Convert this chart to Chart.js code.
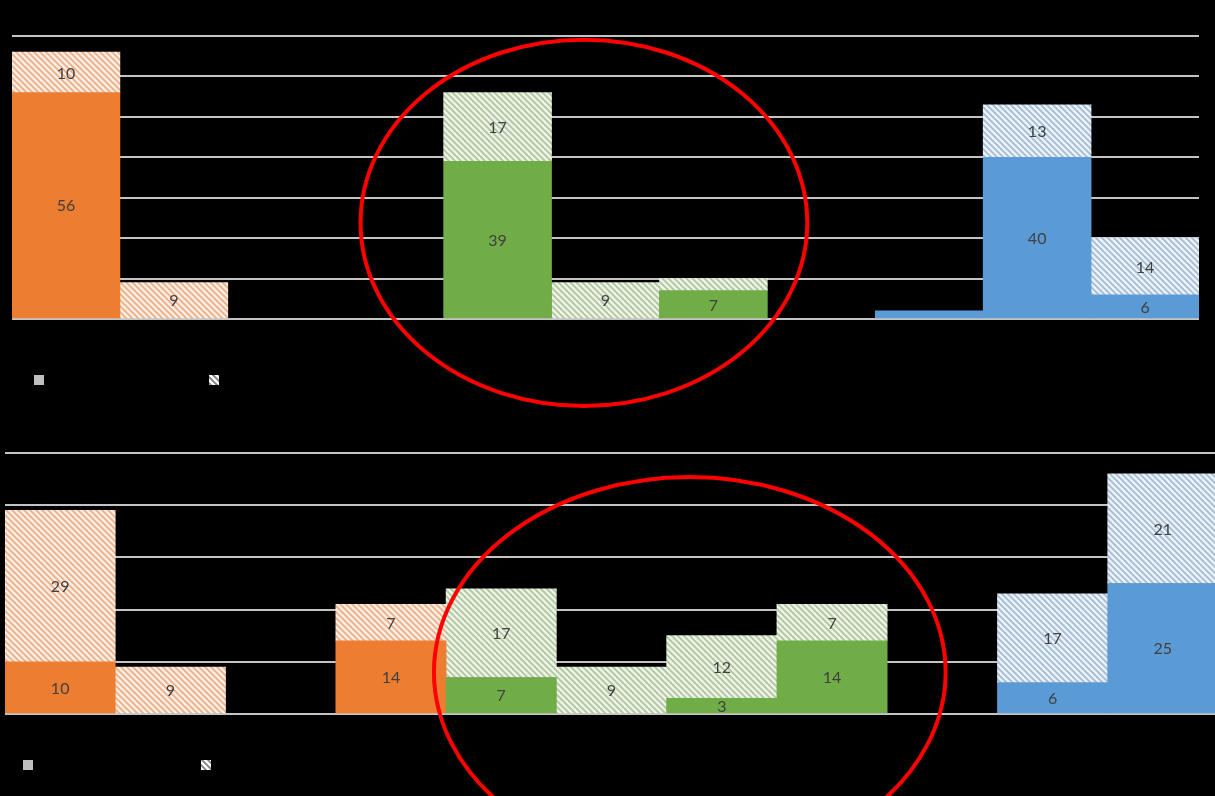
<!DOCTYPE html>
<html>
<head>
<meta charset="utf-8">
<script src="https://cdn.jsdelivr.net/npm/chart.js@4/dist/chart.umd.min.js"></script>
<style>
  html, body { margin: 0; padding: 0; background: #000; overflow: hidden; }
  canvas { display: block; }
</style>
</head>
<body>
<canvas id="top" width="1215" height="420"></canvas>
<canvas id="bottom" width="1218" height="376"></canvas>
<script>
////////////
//// Data (category labels are hidden in the source, slots are just keys)

let slotsTop    = ['o1', 'o2', 'o3', 'gap1', 'g1', 'g2', 'g3', 'gap2', 'b1', 'b2', 'b3'];
let groupTop    = ['orange', 'orange', 'orange', '', 'green', 'green', 'green', '', 'blue', 'blue', 'blue'];
let solidTop    = [56, 0, 0, 0, 39, 0, 7, 0, 2, 40, 6];
let hatchTop    = [10, 9, 0, 0, 17, 9, 3, 0, 0, 13, 14];

let slotsBottom = ['o1', 'o2', 'o3', 'o4', 'g1', 'g2', 'g3', 'g4', 'gap', 'b1', 'b2'];
let groupBottom = ['orange', 'orange', 'orange', 'orange', 'green', 'green', 'green', 'green', '', 'blue', 'blue'];
let solidBottom = [10, 0, 0, 14, 7, 0, 3, 14, 0, 6, 25];
let hatchBottom = [29, 9, 0, 7, 17, 9, 12, 7, 0, 17, 21];

let yTicksTop    = [0, 70, 10];   // min, max, step
let yTicksBottom = [0, 50, 10];

////////////
//// Styles

let SOLID = { orange: '#ED7D31', green: '#70AD47', blue: '#5B9BD5', '': '#000' };
let HATCH_BG = { orange: '#FBEDE3', green: '#EDF4E7', blue: '#EAF1F8', '': '#000' };
let HATCH_LINE = { orange: '#EAB08A', green: '#AFC69F', blue: '#A5BCD4', '': '#000' };

function makeHatch(ctx, bg, line) {
	let n = 6;
	let c = document.createElement('canvas');
	c.width = n; c.height = n;
	let g = c.getContext('2d');
	g.fillStyle = bg;
	g.fillRect(0, 0, n, n);
	g.strokeStyle = line;
	g.lineWidth = 1.8;
	g.beginPath();
	g.moveTo(-1, -1); g.lineTo(n + 1, n + 1);
	g.moveTo(-1, n - 1); g.lineTo(1, n + 1);
	g.moveTo(n - 1, -1); g.lineTo(n + 1, 1);
	g.stroke();
	return ctx.createPattern(c, 'repeat');
}

////////////
//// Plugins

// value labels in the middle of each segment
let valueLabels = {
	id: 'valueLabels',
	afterDatasetsDraw(chart, args, opts) {
		let ctx = chart.ctx;
		ctx.save();
		ctx.font = '16px Lato, "Liberation Sans", sans-serif';
		ctx.fillStyle = '#404040';
		ctx.textAlign = 'center';
		ctx.textBaseline = 'middle';
		chart.data.datasets.forEach((ds, di) => {
			let meta = chart.getDatasetMeta(di);
			meta.data.forEach((el, i) => {
				let v = ds.data[i];
				if (!v || v < opts.min) return;
				ctx.fillText(String(v), el.x, (el.y + el.base) / 2 + 1);
			});
		});
		ctx.restore();
	}
};

// legend markers (legend text is black on black in the source)
let markerLegend = {
	id: 'markerLegend',
	afterDraw(chart, args, opts) {
		let ctx = chart.ctx;
		let a = chart.chartArea;
		let x = a.left + opts.dx, y = a.bottom + opts.dy;
		ctx.save();
		ctx.fillStyle = '#BFBFBF';
		ctx.fillRect(x, y, 10, 10);
		ctx.fillStyle = makeHatch(ctx, '#FFFFFF', '#7F7F7F');
		ctx.fillRect(x + opts.gap, y, 10, 10);
		ctx.restore();
	}
};

// red highlight ellipse, placed in scale units
let ring = {
	id: 'ring',
	afterDraw(chart, args, opts) {
		let xs = chart.scales.x, ys = chart.scales.y;
		let cx = xs.getPixelForValue(opts.cx);
		let cy = ys.getPixelForValue(opts.cy);
		let slot = xs.getPixelForValue(1) - xs.getPixelForValue(0);
		let unit = ys.getPixelForValue(0) - ys.getPixelForValue(1);
		let ctx = chart.ctx;
		ctx.save();
		ctx.strokeStyle = '#FF0000';
		ctx.lineWidth = 4;
		ctx.beginPath();
		ctx.ellipse(cx, cy, opts.rx * slot, opts.ry * unit, 0, 0, Math.PI * 2);
		ctx.stroke();
		ctx.restore();
	}
};

////////////
//// Chart builder

function makeChart(id, slots, groups, solid, hatch, yTicks, padding, extra) {
	let ctx = document.getElementById(id).getContext('2d');
	let hatchFills = groups.map(g => makeHatch(ctx, HATCH_BG[g], HATCH_LINE[g]));
	return new Chart(ctx, {
		type: 'bar',
		data: {
			labels: slots,
			datasets: [
				{ label: 'solid', data: solid.map(v => v || null), backgroundColor: groups.map(g => SOLID[g]), borderWidth: 0 },
				{ label: 'hatched', data: hatch.map(v => v || null), backgroundColor: hatchFills, borderWidth: 0 }
			]
		},
		options: {
			responsive: false,
			animation: false,
			devicePixelRatio: 1,
			layout: { padding: padding },
			datasets: { bar: { categoryPercentage: 1, barPercentage: 1 } },
			scales: {
				x: {
					stacked: true,
					grid: { display: false, drawTicks: false },
					border: { display: false },
					ticks: { display: false, padding: 0 }
				},
				y: {
					stacked: true,
					min: yTicks[0],
					max: yTicks[1],
					ticks: { display: false, stepSize: yTicks[2], padding: 0 },
					grid: { color: '#C4C4C4', lineWidth: 2, drawTicks: false },
					border: { display: false }
				}
			},
			plugins: Object.assign({
				legend: { display: false },
				tooltip: { enabled: false }
			}, extra)
		},
		plugins: [valueLabels, markerLegend, ring]
	});
}

////////////
//// Script

makeChart('top', slotsTop, groupTop, solidTop, hatchTop, yTicksTop,
	{ left: 12, right: 16, top: 36, bottom: 101 },
	{
		valueLabels: { min: 4 },
		markerLegend: { dx: 22, dy: 56, gap: 175 },
		ring: { cx: 4.8, cy: 23.8, rx: 2.07, ry: 45.3 }
	});

makeChart('bottom', slotsBottom, groupBottom, solidBottom, hatchBottom, yTicksBottom,
	{ left: 5, right: 0, top: 33, bottom: 82 },
	{
		valueLabels: { min: 3 },
		markerLegend: { dx: 18, dy: 46, gap: 178 },
		ring: { cx: 5.71, cy: 8.0, rx: 2.32, ry: 37.4 }
	});
</script>
</body>
</html>
